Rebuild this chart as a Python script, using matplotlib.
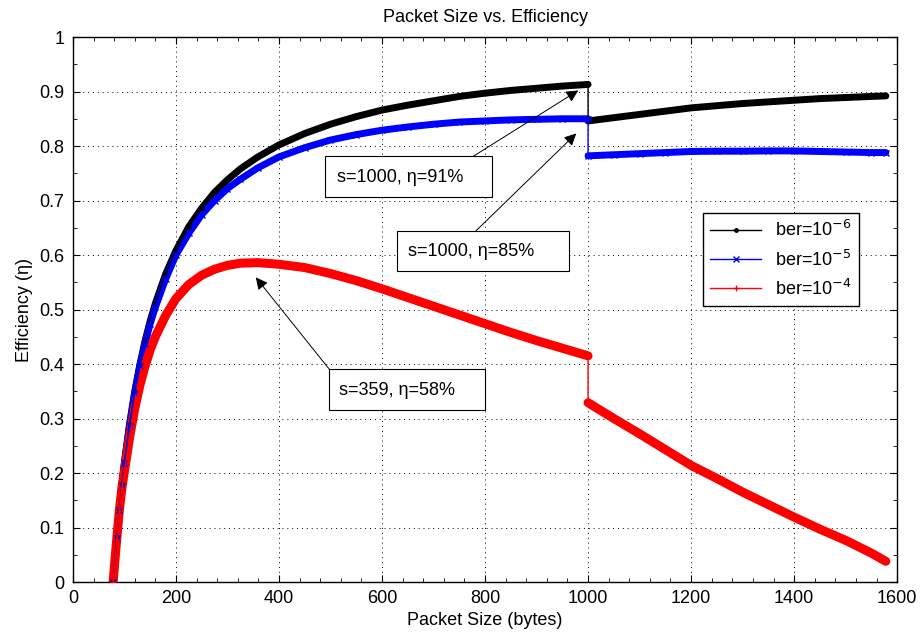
import matplotlib
matplotlib.use("Agg")
import matplotlib.pyplot as plt
from matplotlib.ticker import MultipleLocator, FuncFormatter
from matplotlib.patches import Rectangle

plt.rcParams['font.family'] = ['Liberation Sans', 'DejaVu Sans']

# --- Dados ---
# primeiro trecho (até 1000 bytes)
size_a = [78, 85, 90, 95, 100, 110, 120, 130, 140, 150, 160, 180, 200, 225, 250,
          275, 300, 325, 359, 400, 450, 500, 550, 600, 650, 700, 750, 800, 850,
          900, 950, 1000]
eff_ber6_a = [0.0, 0.082, 0.133, 0.179, 0.22, 0.29, 0.349, 0.399, 0.442, 0.479, 0.511,
              0.565, 0.608, 0.652, 0.686, 0.715, 0.738, 0.758, 0.78, 0.802, 0.823,
              0.84, 0.854, 0.866, 0.875, 0.883, 0.891, 0.897, 0.902, 0.906, 0.910, 0.913]
eff_ber5_a = [0.0, 0.081, 0.132, 0.177, 0.218, 0.287, 0.347, 0.396, 0.437, 0.474, 0.504,
              0.556, 0.6, 0.64, 0.674, 0.7, 0.722, 0.739, 0.76, 0.78, 0.797,
              0.811, 0.821, 0.829, 0.835, 0.84, 0.844, 0.846, 0.848, 0.849, 0.850, 0.85]
eff_ber4_a = [0.0, 0.078, 0.13, 0.172, 0.203, 0.265, 0.318, 0.361, 0.396, 0.426, 0.45,
              0.489, 0.52, 0.546, 0.563, 0.574, 0.581, 0.585, 0.586, 0.583, 0.577,
              0.566, 0.553, 0.538, 0.522, 0.506, 0.490, 0.474, 0.458, 0.443, 0.429, 0.415]

# segundo trecho (depois de 1000 bytes)
size_b = [1000, 1050, 1100, 1150, 1200, 1250, 1300, 1350, 1400, 1450, 1500, 1550, 1578]
eff_ber6_b = [0.846, 0.852, 0.858, 0.864, 0.870, 0.874, 0.878, 0.881, 0.884, 0.887,
              0.889, 0.891, 0.892]
eff_ber5_b = [0.782, 0.784, 0.786, 0.788, 0.790, 0.7905, 0.7905, 0.791, 0.791, 0.790,
              0.789, 0.788, 0.788]
eff_ber4_b = [0.329, 0.300, 0.272, 0.243, 0.214, 0.190, 0.165, 0.142, 0.119, 0.097,
              0.0765, 0.053, 0.038]

series = [
    ("ber=10$^{-6}$", "k", ".", 5, eff_ber6_a, eff_ber6_b),
    ("ber=10$^{-5}$", "b", "x", 5, eff_ber5_a, eff_ber5_b),
    ("ber=10$^{-4}$", "r", "+", 6.5, eff_ber4_a, eff_ber4_b),
]

# anotações: (texto, caixa x0, x1, y0, y1, texto x, texto y, cauda, ponta)
notas = [
    ("s=1000, η=91%", 489, 814, 0.706, 0.781, 513, 0.743, (777, 0.781), (981, 0.902)),
    ("s=1000, η=85%", 630, 963, 0.570, 0.644, 650, 0.607, (782, 0.644), (977, 0.823)),
    ("s=359, η=58%", 498, 800, 0.315, 0.390, 516, 0.352, (498, 0.390), (355, 0.559)),
]

fig = plt.figure(figsize=(9.23, 6.34), dpi=100)
ax = fig.add_axes([0.079, 0.082, 0.893, 0.8596])

for label, cor, marc, larg, ya, yb in series:
    # faixa grossa (os marcadores densos do original)
    ax.plot(size_a, ya, color=cor, lw=larg, solid_capstyle='round', zorder=2)
    ax.plot(size_b, yb, color=cor, lw=larg, solid_capstyle='round', zorder=2)
    # linha fina com o salto vertical em 1000
    ax.plot(size_a + size_b, ya + yb, color=cor, lw=1, marker=marc, ms=5,
            markeredgewidth=1, label=label, zorder=3)

for txt, x0, x1, y0, y1, tx, ty, cauda, ponta in notas:
    ax.add_patch(Rectangle((x0, y0), x1 - x0, y1 - y0, facecolor='white',
                           edgecolor='black', lw=0.8, zorder=5))
    ax.text(tx, ty, txt, fontsize=13, ha='left', va='center', zorder=6)
    ax.annotate('', xy=ponta, xytext=cauda,
                arrowprops=dict(arrowstyle='-|>', color='black', lw=0.7,
                                mutation_scale=18, shrinkA=0, shrinkB=0),
                zorder=6)

ax.set_xlim(0, 1600)
ax.set_ylim(0, 1)
ax.xaxis.set_major_locator(MultipleLocator(200))
ax.xaxis.set_minor_locator(MultipleLocator(40))
ax.yaxis.set_major_locator(MultipleLocator(0.1))
ax.yaxis.set_minor_locator(MultipleLocator(0.05))
ax.yaxis.set_major_formatter(FuncFormatter(lambda v, p: "%g" % round(v, 2)))
ax.tick_params(which='both', direction='in', top=True, right=True, labelsize=13)
ax.tick_params(which='major', length=5, pad=6)
ax.tick_params(which='minor', length=3)
ax.grid(True, which='major', linestyle=(0, (1, 4)), color='black', lw=0.7)
for sp in ax.spines.values():
    sp.set_linewidth(1)

ax.set_title("Packet Size vs. Efficiency", fontsize=13, pad=11)
ax.set_xlabel("Packet Size (bytes)", fontsize=13, labelpad=3)
ax.set_ylabel("Efficiency (η)", fontsize=13, labelpad=5)

leg = ax.legend(loc='upper left', bbox_to_anchor=(0.7646, 0.677), fontsize=13,
                fancybox=False, framealpha=1, edgecolor='black', handlelength=2.8,
                borderaxespad=0, labelspacing=0.5)
leg.get_frame().set_linewidth(1)

fig.savefig("out.png", dpi=100)
